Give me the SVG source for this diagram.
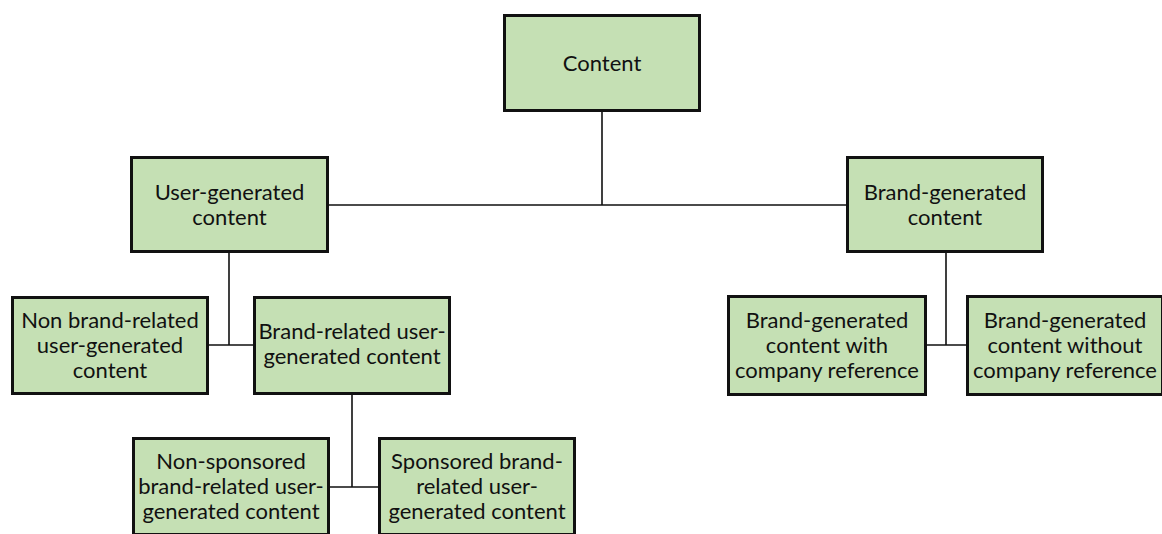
<svg xmlns="http://www.w3.org/2000/svg" width="1162" height="534" viewBox="0 0 1162 534">
  <style>
    .box { fill: #C5E0B4; stroke: #111; stroke-width: 3; }
    .lbl { font-family: Lato, "Open Sans", "Liberation Sans", sans-serif; font-size: 22px; fill: #111; text-anchor: middle; }
    .link { fill: none; stroke: #111; stroke-width: 1.6; }
  </style>
  <rect width="1162" height="534" fill="#fff"/>

  <!-- tree connectors -->
  <g id="connectors">
    <path class="link" d="M602 112 V205 M329 205 H846"/>
    <path class="link" d="M229 253 V345 M209 345 H253"/>
    <path class="link" d="M352 395 V487 M330 487 H378"/>
    <path class="link" d="M946 253 V345 M927 345 H966"/>
  </g>

  <g id="content">
    <rect class="box" x="504.5" y="15.5" width="195" height="95"/>
    <text class="lbl" x="602" y="70.5">Content</text>
  </g>

  <g id="user-generated">
    <rect class="box" x="131.5" y="157.5" width="196" height="94"/>
    <text class="lbl" x="229.5" y="199.5">User-generated</text>
    <text class="lbl" x="229.5" y="224.5">content</text>
  </g>

  <g id="brand-generated">
    <rect class="box" x="847.5" y="157.5" width="195" height="94"/>
    <text class="lbl" x="945" y="199.5">Brand-generated</text>
    <text class="lbl" x="945" y="224.5">content</text>
  </g>

  <g id="non-brand-related">
    <rect class="box" x="12.5" y="297.5" width="195" height="96"/>
    <text class="lbl" x="110" y="327.5">Non brand-related</text>
    <text class="lbl" x="110" y="352.5">user-generated</text>
    <text class="lbl" x="110" y="377.5">content</text>
  </g>

  <g id="brand-related">
    <rect class="box" x="254.5" y="297.5" width="195" height="96"/>
    <text class="lbl" x="352" y="339">Brand-related user-</text>
    <text class="lbl" x="352" y="364">generated content</text>
  </g>

  <g id="non-sponsored">
    <rect class="box" x="133.5" y="438.5" width="195" height="96"/>
    <text class="lbl" x="231" y="469">Non-sponsored</text>
    <text class="lbl" x="231" y="494">brand-related user-</text>
    <text class="lbl" x="231" y="519">generated content</text>
  </g>

  <g id="sponsored">
    <rect class="box" x="379.5" y="438.5" width="195" height="96"/>
    <text class="lbl" x="477" y="469">Sponsored brand-</text>
    <text class="lbl" x="477" y="494">related user-</text>
    <text class="lbl" x="477" y="519">generated content</text>
  </g>

  <g id="brand-generated-with-reference">
    <rect class="box" x="728.5" y="296.5" width="197" height="98"/>
    <text class="lbl" x="827" y="327.5">Brand-generated</text>
    <text class="lbl" x="827" y="352.5">content with</text>
    <text class="lbl" x="827" y="377.5">company reference</text>
  </g>

  <g id="brand-generated-without-reference">
    <rect class="box" x="967.5" y="296.5" width="195" height="98"/>
    <text class="lbl" x="1065" y="327.5">Brand-generated</text>
    <text class="lbl" x="1065" y="352.5">content without</text>
    <text class="lbl" x="1065" y="377.5">company reference</text>
  </g>
</svg>
